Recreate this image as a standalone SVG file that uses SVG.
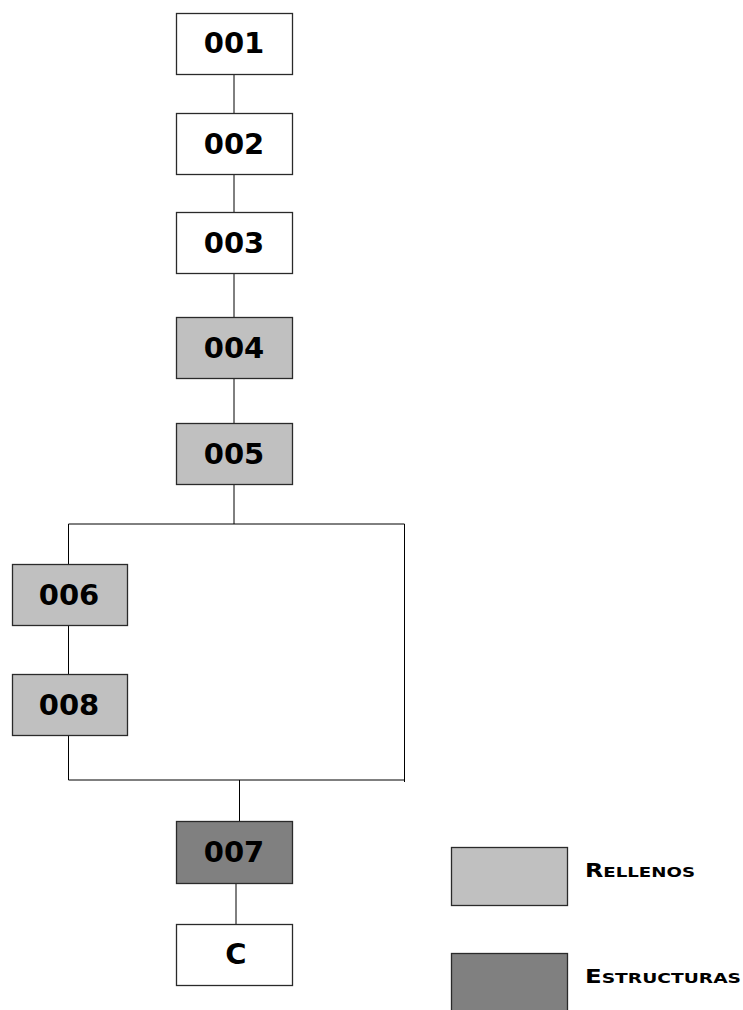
<svg xmlns="http://www.w3.org/2000/svg" width="743" height="1010" viewBox="0 0 743 1010">
<style>
.box{stroke:#2a2a2a;stroke-width:1.3}
.w{fill:#ffffff}
.l{fill:#c0c0c0}
.d{fill:#808080}
.t{font-family:"DejaVu Sans","Liberation Sans",sans-serif;font-weight:bold;font-size:29px;fill:#000;text-anchor:middle}
.lg{font-family:"DejaVu Sans","Liberation Sans",sans-serif;font-weight:bold;font-size:19px;fill:#000}
.sm{font-size:14.5px;text-transform:uppercase}
.c{stroke:#000;stroke-width:1;fill:none}
</style>
<rect width="743" height="1010" fill="#ffffff"/>
<g id="connectors">
<line class="c" x1="234" y1="74" x2="234" y2="113"/>
<line class="c" x1="234" y1="174" x2="234" y2="212"/>
<line class="c" x1="234" y1="273" x2="234" y2="317"/>
<line class="c" x1="234" y1="378" x2="234" y2="423"/>
<line class="c" x1="234" y1="484" x2="234" y2="524"/>
<polyline class="c" points="68.5,564 68.5,524 404.5,524 404.5,782"/>
<line class="c" x1="68.5" y1="625" x2="68.5" y2="674" stroke="#555"/>
<polyline class="c" points="68.5,735 68.5,780 404.5,780"/>
<line class="c" x1="239.5" y1="780" x2="239.5" y2="821"/>
<line class="c" x1="236" y1="883" x2="236" y2="924"/>
</g>
<g id="n001"><rect class="box w" x="176.5" y="13.5" width="116" height="61"/><text class="t" x="234" y="53">001</text></g>
<g id="n002"><rect class="box w" x="176.5" y="113.5" width="116" height="61"/><text class="t" x="234" y="154">002</text></g>
<g id="n003"><rect class="box w" x="176.5" y="212.5" width="116" height="61"/><text class="t" x="234" y="253">003</text></g>
<g id="n004"><rect class="box l" x="176.5" y="317.5" width="116" height="61"/><text class="t" x="234" y="358">004</text></g>
<g id="n005"><rect class="box l" x="176.5" y="423.5" width="116" height="61"/><text class="t" x="234" y="464">005</text></g>
<g id="n006"><rect class="box l" x="12.5" y="564.5" width="115" height="61"/><text class="t" x="69" y="605">006</text></g>
<g id="n008"><rect class="box l" x="12.5" y="674.5" width="115" height="61"/><text class="t" x="69" y="715">008</text></g>
<g id="n007"><rect class="box d" x="176.5" y="821.5" width="116" height="62"/><text class="t" x="234" y="862">007</text></g>
<g id="nC"><rect class="box w" x="176.5" y="924.5" width="116" height="61"/><text class="t" x="236" y="964">C</text></g>
<g id="legend-rellenos"><rect class="box l" x="451.5" y="847.5" width="116" height="58"/><text class="lg" x="585" y="877" textLength="110" lengthAdjust="spacingAndGlyphs">R<tspan class="sm">ellenos</tspan></text></g>
<g id="legend-estructuras"><rect class="box d" x="451.5" y="953.5" width="116" height="58"/><text class="lg" x="585" y="983" textLength="156" lengthAdjust="spacingAndGlyphs">E<tspan class="sm">structuras</tspan></text></g>
</svg>
